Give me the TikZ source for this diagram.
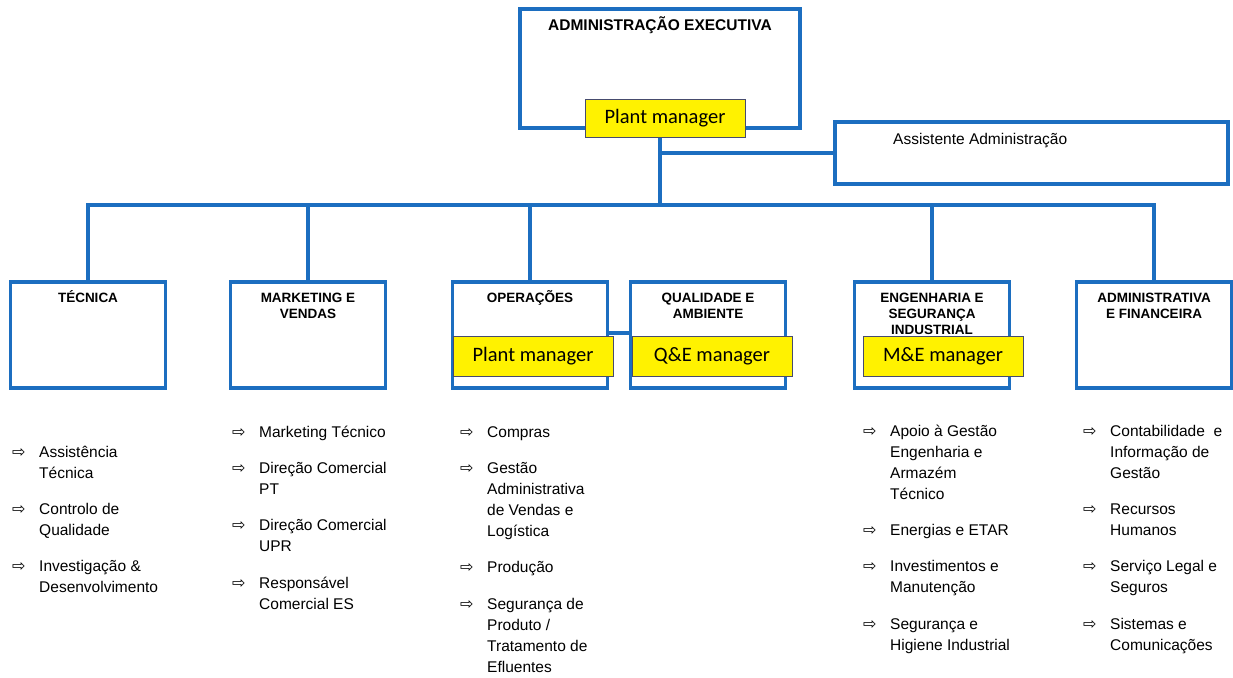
\documentclass[tikz,border=0pt]{standalone}
\usepackage{fontspec}
\setmainfont{Liberation Sans}
\newfontfamily\calfont{Carlito}
\newfontfamily\dvfont{DejaVu Sans}
\usetikzlibrary{positioning}
\definecolor{orgblue}{RGB}{28,110,192}
\definecolor{tagline}{RGB}{70,75,110}
\newcommand{\arr}{\makebox[27pt][l]{\dvfont\fontsize{16}{21}\selectfont ⇨}}
\newcommand{\li}[1]{\arr\begin{tabular}[t]{@{}l@{}}#1\end{tabular}}
\newcommand{\hd}[1]{\begin{tabular}[t]{@{}c@{}}#1\end{tabular}}

\begin{document}
\begin{tikzpicture}[x=1pt,y=-1pt,
    dept/.style={draw=orgblue,line width=3.2pt,minimum width=155pt,minimum height=106pt},
    head/.style={anchor=base,inner sep=0pt,font=\bfseries\fontsize{13.5}{16}\selectfont},
    tag/.style={draw=tagline,fill=yellow,line width=0.8pt,minimum width=160pt,minimum height=40pt,font=\calfont\fontsize{20.5}{24}\selectfont},
    entry/.style={anchor=base west,inner sep=0pt,font=\fontsize{15.5}{21}\selectfont},
    link/.style={draw=orgblue,line width=3.2pt}]

    \useasboundingbox (0,0) rectangle (1233,677);

    % top level
    \node[dept, minimum width=280pt, minimum height=119pt] (top) at (660,68.5) {};
    \node[head, font=\bfseries\fontsize{15.5}{17}\selectfont] (toph) at ([yshift=-23.5pt]top.north) {ADMINISTRAÇÃO EXECUTIVA};
    \node[dept, minimum width=393pt, minimum height=62pt] (ast) at (1031.5,153) {};
    \node[entry] (asth) at (893,144) {Assistente Administração};

    % departments
    \node[dept] (tec) at (88,335) {};
    \node[dept] (mkt) at (308,335) {};
    \node[dept] (ops) at (530,335) {};
    \node[dept] (qua) at (708,335) {};
    \node[dept] (eng) at (932,335) {};
    \node[dept] (adf) at (1154,335) {};

    \node[head] (tech) at ([yshift=-22pt]tec.north) {\hd{TÉCNICA}};
    \node[head] (mkth) at ([yshift=-22pt]mkt.north) {\hd{MARKETING E\\VENDAS}};
    \node[head] (opsh) at ([yshift=-22pt]ops.north) {\hd{OPERAÇÕES}};
    \node[head] (quah) at ([yshift=-22pt]qua.north) {\hd{QUALIDADE E\\AMBIENTE}};
    \node[head] (engh) at ([yshift=-22pt]eng.north) {\hd{ENGENHARIA E\\SEGURANÇA\\INDUSTRIAL}};
    \node[head] (adfh) at ([yshift=-22pt]adf.north) {\hd{ADMINISTRATIVA\\E FINANCEIRA}};

    % connectors
    \coordinate (bus) at (660,205);
    \draw[link] (top.south) -- (bus);
    \draw[link] (bus |- ast.west) -- (ast.west);
    \draw[link] (tec.north) |- (bus) -| (adf.north);
    \draw[link] (mkt.north) -- (mkt.north |- bus);
    \draw[link] (ops.north) -- (ops.north |- bus);
    \draw[link] (eng.north) -- (eng.north |- bus);
    \draw[link] ([yshift=2pt]ops.east) -- ([yshift=2pt]qua.west);

    % managers
    \node[tag, minimum height=38pt] (pm1) at (665,118) {Plant manager};
    \node[tag] (pm2) at (533,356) {Plant manager};
    \node[tag] (qem) at (712,356) {Q\&E manager};
    \node[tag] (mem) at (943,356) {M\&E manager};

    % lists
    \node[entry] (t1) at (12,457) {\li{Assistência\\Técnica}};
    \node[entry, below=15pt of t1.south west, anchor=north west] (t2) {\li{Controlo de\\Qualidade}};
    \node[entry, below=15pt of t2.south west, anchor=north west] (t3) {\li{Investigação \&\\Desenvolvimento}};

    \node[entry] (m1) at (232,437) {\li{Marketing Técnico}};
    \node[entry, below=15pt of m1.south west, anchor=north west] (m2) {\li{Direção Comercial\\PT}};
    \node[entry, below=15pt of m2.south west, anchor=north west] (m3) {\li{Direção Comercial\\UPR}};
    \node[entry, below=15pt of m3.south west, anchor=north west] (m4) {\li{Responsável\\Comercial ES}};

    \node[entry] (o1) at (460,437) {\li{Compras}};
    \node[entry, below=15pt of o1.south west, anchor=north west] (o2) {\li{Gestão\\Administrativa\\de Vendas e\\Logística}};
    \node[entry, below=15pt of o2.south west, anchor=north west] (o3) {\li{Produção}};
    \node[entry, below=15pt of o3.south west, anchor=north west] (o4) {\li{Segurança de\\Produto /\\Tratamento de\\Efluentes}};

    \node[entry] (e1) at (863,436) {\li{Apoio à Gestão\\Engenharia e\\Armazém\\Técnico}};
    \node[entry, below=15pt of e1.south west, anchor=north west] (e2) {\li{Energias e ETAR}};
    \node[entry, below=15pt of e2.south west, anchor=north west] (e3) {\li{Investimentos e\\Manutenção}};
    \node[entry, below=15pt of e3.south west, anchor=north west] (e4) {\li{Segurança e\\Higiene Industrial}};

    \node[entry] (a1) at (1083,436) {\li{Contabilidade~ e\\Informação de\\Gestão}};
    \node[entry, below=15pt of a1.south west, anchor=north west] (a2) {\li{Recursos\\Humanos}};
    \node[entry, below=15pt of a2.south west, anchor=north west] (a3) {\li{Serviço Legal e\\Seguros}};
    \node[entry, below=15pt of a3.south west, anchor=north west] (a4) {\li{Sistemas e\\Comunicações}};
\end{tikzpicture}
\end{document}
